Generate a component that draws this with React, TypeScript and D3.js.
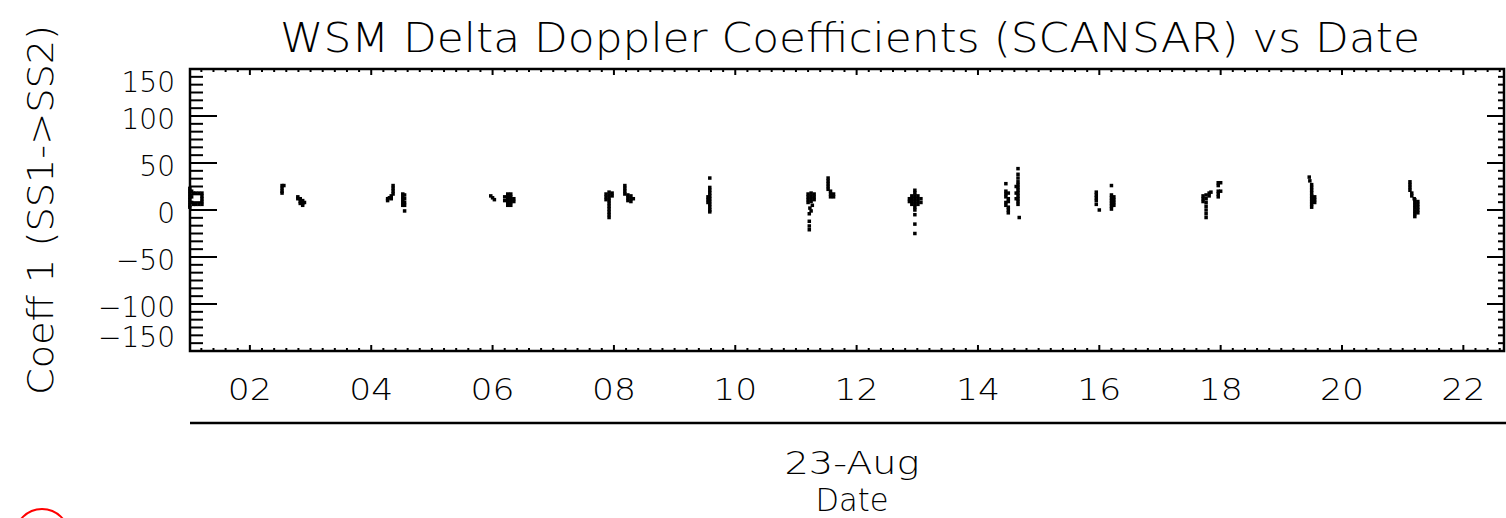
import React from "react";
import * as d3 from "d3";

const TITLE = "WSM Delta Doppler Coefficients (SCANSAR) vs Date";
const Y_LABEL = "Coeff 1 (SS1->SS2)";
const X_DATE = "23-Aug";
const X_LABEL = "Date";

const xDomain = [1.013, 22.67];
const yDomain = [-150, 150];
const xTickHours = [2, 4, 6, 8, 10, 12, 14, 16, 18, 20, 22];
const xTickLabels = ["02", "04", "06", "08", "10", "12", "14", "16", "18", "20", "22"];
const yTickValues = [-150, -100, -50, 0, 50, 100, 150];
const yTickLabels = ["\u2212150", "\u2212100", "\u221250", "0", "50", "100", "150"];

// [hour of 23-Aug, coefficient]
const pass01: [number, number][] = [
  [1.01, 23], [1.01, 20], [1.01, 17], [1.01, 14], [1.01, 11], [1.01, 8], [1.01, 5], [1.01, 3],
  [1.04, 20], [1.04, 14], [1.04, 8], [1.07, 18], [1.07, 6], [1.11, 18], [1.11, 6],
  [1.16, 18], [1.16, 6], [1.21, 18], [1.21, 15], [1.21, 12], [1.21, 9], [1.21, 6],
];
const pass02: [number, number][] = [
  [2.53, 26], [2.53, 23], [2.53, 20], [2.53, 18], [2.56, 26],
  [2.79, 14], [2.79, 12], [2.83, 12], [2.83, 9], [2.83, 7], [2.87, 10], [2.87, 7], [2.87, 5], [2.9, 8],
];
const pass03: [number, number][] = [
  [4.36, 26], [4.36, 23], [4.36, 20], [4.36, 17], [4.33, 15], [4.33, 12], [4.27, 12], [4.27, 10], [4.3, 13],
  [4.52, 17], [4.52, 14], [4.52, 11], [4.52, 8], [4.52, 5], [4.55, 16], [4.55, 12], [4.55, 8], [4.55, 5], [4.55, -1],
];
const pass04: [number, number][] = [
  [5.97, 15], [6.0, 13], [6.03, 11],
  [6.2, 14], [6.2, 10], [6.25, 17], [6.25, 14], [6.25, 11], [6.25, 8], [6.25, 5],
  [6.3, 17], [6.3, 14], [6.3, 11], [6.3, 8], [6.3, 5], [6.35, 12], [6.35, 9],
];
const pass05: [number, number][] = [
  [7.87, 17], [7.87, 14], [7.87, 11], [7.92, 19], [7.92, 16], [7.92, 13], [7.92, 10], [7.92, 7],
  [7.92, 4], [7.92, 1], [7.92, -2], [7.92, -5], [7.92, -8], [7.97, 18], [7.97, 15],
  [8.18, 26], [8.18, 23], [8.18, 20], [8.18, 17], [8.23, 16], [8.23, 13], [8.23, 10],
  [8.28, 15], [8.28, 12], [8.28, 9], [8.32, 12],
];
const pass06: [number, number][] = [
  [9.58, 34], [9.58, 24], [9.58, 21], [9.58, 18], [9.58, 15], [9.58, 12], [9.58, 9], [9.58, 6],
  [9.58, 3], [9.58, 0], [9.58, -2], [9.55, 14], [9.55, 11], [9.55, 8],
];
const pass07: [number, number][] = [
  [11.2, 17], [11.2, 14], [11.2, 11], [11.2, 8], [11.25, 18], [11.25, 15], [11.25, 12], [11.25, 9],
  [11.3, 17], [11.3, 14], [11.3, 11], [11.27, 5], [11.23, 2], [11.25, -1], [11.22, -4],
  [11.22, -12], [11.22, -17], [11.22, -21],
  [11.53, 34], [11.53, 31], [11.53, 28], [11.53, 25], [11.53, 22], [11.57, 20], [11.57, 17], [11.57, 14],
  [11.62, 17], [11.62, 14],
];
const pass08: [number, number][] = [
  [12.96, 21], [12.96, 18], [12.96, 15], [12.96, 12], [12.96, 9], [12.96, 6], [12.96, 3], [12.96, 0],
  [12.91, 15], [12.91, 12], [12.91, 9], [12.91, 6], [12.87, 12], [12.87, 9],
  [13.01, 15], [13.01, 12], [13.01, 9], [13.01, 6], [13.06, 12], [13.06, 8],
  [12.96, -5], [12.96, -15], [12.96, -25],
];
const pass09: [number, number][] = [
  [14.46, 28], [14.46, 20], [14.46, 17], [14.46, 14], [14.46, 8], [14.46, 5],
  [14.5, 18], [14.5, 12], [14.5, 9], [14.5, 3], [14.5, 0], [14.5, -3],
  [14.66, 44], [14.66, 38], [14.66, 34], [14.66, 30], [14.66, 27], [14.66, 24], [14.66, 21],
  [14.66, 18], [14.66, 15], [14.66, 12], [14.66, 9], [14.66, 6],
  [14.63, 25], [14.63, 18], [14.63, 12], [14.68, -8],
];
const pass10: [number, number][] = [
  [15.95, 19], [15.95, 16], [15.95, 13], [15.95, 10], [15.95, 6], [16.0, 0],
  [16.2, 26], [16.2, 16], [16.2, 13], [16.2, 10], [16.2, 7], [16.2, 4], [16.2, 1],
  [16.24, 14], [16.24, 11], [16.24, 8], [16.24, 5],
];
const pass11: [number, number][] = [
  [17.71, 15], [17.71, 12], [17.71, 9], [17.76, 16], [17.76, 12], [17.76, 8], [17.76, 4],
  [17.76, 0], [17.76, -4], [17.76, -8], [17.81, 18], [17.81, 15], [17.84, 19],
  [17.96, 29], [17.96, 26], [17.96, 20], [17.96, 17], [17.96, 14], [18.0, 29], [18.0, 20],
];
const pass12: [number, number][] = [
  [19.46, 35], [19.47, 31], [19.5, 27], [19.5, 24], [19.5, 21], [19.5, 18], [19.5, 15], [19.5, 12],
  [19.5, 9], [19.5, 6], [19.5, 3], [19.55, 14], [19.55, 11], [19.55, 8],
];
const pass13: [number, number][] = [
  [21.12, 30], [21.12, 27], [21.12, 24], [21.12, 21], [21.15, 18], [21.15, 15], [21.19, 12],
  [21.2, 11], [21.2, 8], [21.2, 5], [21.2, 2], [21.2, -1], [21.2, -4], [21.2, -7],
  [21.25, 9], [21.25, 6], [21.25, 3], [21.25, 0], [21.25, -3],
];

const passes = [pass01, pass02, pass03, pass04, pass05, pass06, pass07, pass08, pass09, pass10, pass11, pass12, pass13];

const W = 1506;
const H = 518;
const L = 190, R = 1504, T = 69, B = 351;
const FONT = "'DejaVu Sans', sans-serif";
const FW = 200;

export default function App() {
  const x = d3.scaleLinear().domain(xDomain).range([L, R]);
  const y = d3.scaleLinear().domain(yDomain).range([B, T]);

  const xMinor = d3.range(Math.ceil(xDomain[0] / 0.2) * 0.2, xDomain[1], 0.2).filter(
    (h) => Math.abs(h / 2 - Math.round(h / 2)) > 0.01
  );
  const yMinor = d3.range(-150, 150.01, 50 / 6).filter((v) => Math.abs(v / 50 - Math.round(v / 50)) > 0.01);

  const points = passes.flat();

  return (
    <svg
      width={W}
      height={H}
      style={{ position: "absolute", left: 0, top: 0, background: "#fff", overflow: "hidden" }}
      fontFamily={FONT}
      fontWeight={FW}
    >
      <rect x={0} y={0} width={W} height={H} fill="#fff" />
      <text x={850} y={52} textAnchor="middle" fontSize={40} textLength={1140} lengthAdjust="spacingAndGlyphs">
        {TITLE}
      </text>
      <text
        transform={`translate(53,210) rotate(-90)`}
        textAnchor="middle"
        fontSize={36}
        textLength={370}
        lengthAdjust="spacingAndGlyphs"
      >
        {Y_LABEL}
      </text>

      {/* plot frame */}
      <rect x={L} y={T} width={R - L} height={B - T} fill="none" stroke="#000" strokeWidth={2.5} />

      {/* left & right y ticks */}
      {yTickValues.map((v) => (
        <g key={"yt" + v}>
          <line x1={L} x2={L + 27} y1={y(v)} y2={y(v)} stroke="#000" strokeWidth={2} />
          <line x1={R - 17} x2={R} y1={y(v)} y2={y(v)} stroke="#000" strokeWidth={2} />
        </g>
      ))}
      {yMinor.map((v, i) => (
        <g key={"ym" + i}>
          <line x1={L} x2={L + 13} y1={y(v)} y2={y(v)} stroke="#000" strokeWidth={2} />
          <line x1={R - 6} x2={R} y1={y(v)} y2={y(v)} stroke="#000" strokeWidth={2} />
        </g>
      ))}
      {yTickValues.map((v, i) => (
        <text
          key={"yl" + v}
          x={175}
          y={Math.max(T + 23, Math.min(B - 4, y(v) + 13))}
          textAnchor="end"
          fontSize={28}
        >
          {yTickLabels[i]}
        </text>
      ))}

      {/* bottom & top x ticks */}
      {xTickHours.map((h) => (
        <g key={"xt" + h}>
          <line x1={x(h)} x2={x(h)} y1={B} y2={B - 6} stroke="#000" strokeWidth={2} />
          <line x1={x(h)} x2={x(h)} y1={T} y2={T + 6} stroke="#000" strokeWidth={2} />
        </g>
      ))}
      {xMinor.map((h, i) => (
        <g key={"xm" + i}>
          <line x1={x(h)} x2={x(h)} y1={B} y2={B - 3} stroke="#000" strokeWidth={2} />
          <line x1={x(h)} x2={x(h)} y1={T} y2={T + 3} stroke="#000" strokeWidth={2} />
        </g>
      ))}
      {xTickHours.map((h, i) => (
        <text key={"xl" + h} x={x(h)} y={400} textAnchor="middle" fontSize={30} textLength={44} lengthAdjust="spacingAndGlyphs">
          {xTickLabels[i]}
        </text>
      ))}

      {/* data */}
      {points.map((p, i) => (
        <rect key={"p" + i} x={x(p[0]) - 1.75} y={y(p[1]) - 1.75} width={3.5} height={3.5} fill="#000" />
      ))}

      {/* date axis */}
      <line x1={L} x2={W} y1={423} y2={423} stroke="#000" strokeWidth={2.5} />
      <text x={852} y={474} textAnchor="middle" fontSize={32} textLength={135} lengthAdjust="spacingAndGlyphs">
        {X_DATE}
      </text>
      <text x={852} y={511} textAnchor="middle" fontSize={32} textLength={73} lengthAdjust="spacingAndGlyphs">
        {X_LABEL}
      </text>

      {/* red partial marker */}
      <circle cx={42} cy={536} r={27} fill="none" stroke="#f00" strokeWidth={2} />
    </svg>
  );
}
